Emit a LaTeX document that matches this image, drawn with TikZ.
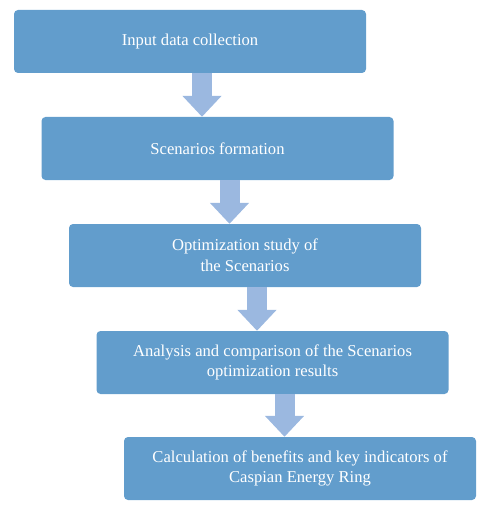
\documentclass[tikz,border=0pt]{standalone}
\usepackage{fontspec}
\setmainfont{Liberation Serif}
\usetikzlibrary{arrows.meta}
\definecolor{boxblue}{RGB}{98,157,204}
\definecolor{arrowblue}{RGB}{155,184,224}
\begin{document}
\begin{tikzpicture}[x=1pt,y=-1pt,
  stage/.style={fill=boxblue,rounded corners=4pt,minimum width=352pt,minimum height=63pt,
    text=white,align=center,font=\fontsize{16.6}{20.8}\selectfont,inner sep=0pt},
  flow/.style={draw=arrowblue,line width=20pt,
    -{Triangle[width=38pt,length=21pt]}}]
  \useasboundingbox (0,0) rectangle (487,513);
  \node[stage] (collect) at (190,41.5) {Input data collection};
  \node[stage] (scen) at (217.5,148.5) {Scenarios formation};
  \node[stage] (optim) at (245,255.5) {Optimization study of\\the Scenarios};
  \node[stage] (analysis) at (272.5,362.5) {Analysis and comparison of the Scenarios\\optimization results};
  \node[stage] (calc) at (300,468.5) {Calculation of benefits and key indicators of\\Caspian Energy Ring};
  \draw[flow] ([xshift=12pt]collect.south) -- ([xshift=12pt]collect.south |- scen.north);
  \draw[flow] ([xshift=12pt]scen.south) -- ([xshift=12pt]scen.south |- optim.north);
  \draw[flow] ([xshift=12pt]optim.south) -- ([xshift=12pt]optim.south |- analysis.north);
  \draw[flow] ([xshift=12pt]analysis.south) -- ([xshift=12pt]analysis.south |- calc.north);
\end{tikzpicture}
\end{document}
